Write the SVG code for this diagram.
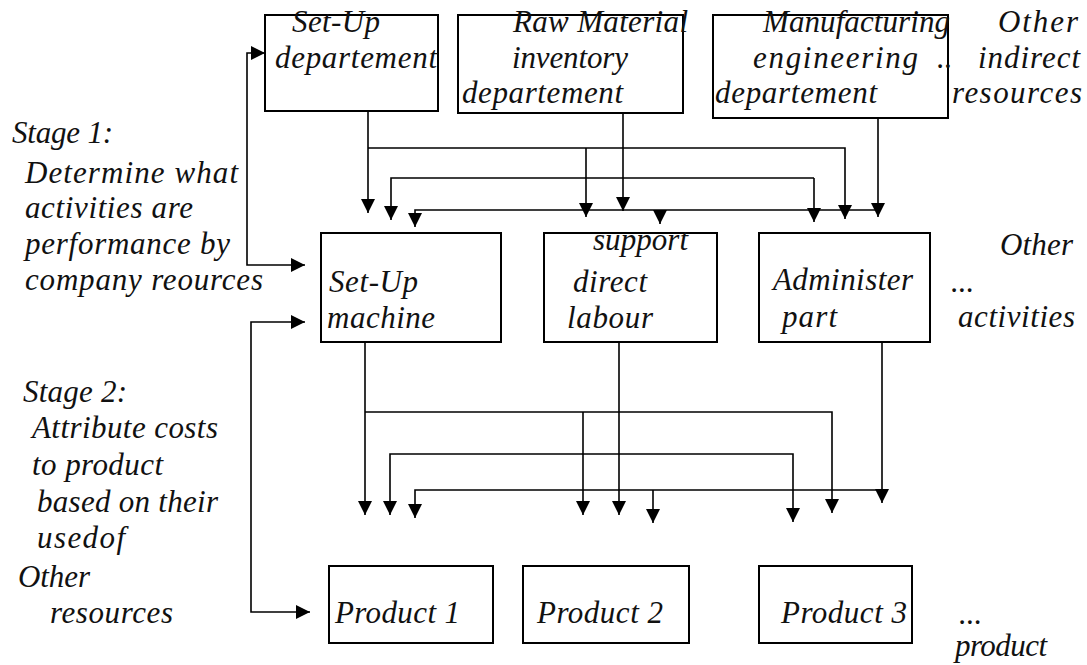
<svg xmlns="http://www.w3.org/2000/svg" width="1087" height="665" viewBox="0 0 1087 665">
<defs>
<marker id="ah" viewBox="0 0 14 14" refX="14" refY="7" markerWidth="14" markerHeight="14" markerUnits="userSpaceOnUse" orient="auto-start-reverse">
<path d="M0,0 L14,7 L0,14 z" fill="#000"/>
</marker>
<style>
text{font-family:"Liberation Serif","Times New Roman",serif;font-style:italic;font-size:31px;fill:#111}
.box{fill:#fff;stroke:#000;stroke-width:2}
.c{fill:none;stroke:#000;stroke-width:1.6}
.a{marker-end:url(#ah)}
.b{marker-start:url(#ah);marker-end:url(#ah)}
</style>
</defs>
<rect width="1087" height="665" fill="#fff"/>

<g id="connectors">
<path class="c a" d="M368,111 V213"/>
<path class="c a" d="M368,148 H845 V219"/>
<path class="c a" d="M586,148 V217"/>
<path class="c a" d="M623,113 V211"/>
<path class="c a" d="M814,178 H391 V220"/>
<path class="c a" d="M814,178 V222"/>
<path class="c a" d="M878,118 V217"/>
<path class="c a" d="M878,210 H415 V227"/>
<path class="c a" d="M660,210 V224"/>
<path class="c a" d="M365,342 V515"/>
<path class="c a" d="M365,412 H832 V513"/>
<path class="c a" d="M583,412 V515"/>
<path class="c a" d="M619,342 V515"/>
<path class="c a" d="M619,454 H390 V515"/>
<path class="c a" d="M619,454 H793 V522"/>
<path class="c a" d="M882,342 V503"/>
<path class="c a" d="M882,490 H415 V518"/>
<path class="c a" d="M653,490 V523"/>
<path class="c b" d="M265,53 H247 V265 H305"/>
<path class="c b" d="M305,322 H251 V612 H310"/>
</g>

<g id="setup-dept">
<rect class="box" x="265" y="15" width="173" height="96"/>
<text x="292" y="32" textLength="88">Set-Up</text>
<text x="275" y="68" textLength="162">departement</text>
</g>
<g id="raw-material">
<rect class="box" x="458" y="15" width="225" height="98"/>
<text x="513" y="32" textLength="175">Raw Material</text>
<text x="512" y="68" textLength="116">inventory</text>
<text x="462" y="103" textLength="161">departement</text>
</g>
<g id="manufacturing">
<rect class="box" x="713" y="15" width="235" height="103"/>
<text x="763" y="32" textLength="187">Manufacturing</text>
<text x="753" y="68" textLength="165">engineering</text>
<text x="715" y="103" textLength="162">departement</text>
</g>
<g id="other-indirect">
<text x="998" y="32" textLength="80">Other</text>
<text x="937" y="68">..</text>
<text x="978" y="68" textLength="102">indirect</text>
<text x="952" y="103" textLength="130">resources</text>
</g>

<g id="stage1">
<text x="12" y="143" textLength="101">Stage 1:</text>
<text x="25" y="183" textLength="213">Determine what</text>
<text x="25" y="218" textLength="168">activities are</text>
<text x="25" y="254" textLength="205">performance by</text>
<text x="25" y="290" textLength="238">company reources</text>
</g>

<g id="setup-machine">
<rect class="box" x="321" y="233" width="180" height="109"/>
<text x="329" y="292" textLength="89">Set-Up</text>
<text x="327" y="328" textLength="108">machine</text>
</g>
<g id="support-labour">
<rect class="box" x="544" y="233" width="173" height="109"/>
<text x="593" y="250" textLength="95">support</text>
<text x="573" y="292" textLength="74">direct</text>
<text x="567" y="328" textLength="86">labour</text>
</g>
<g id="administer">
<rect class="box" x="759" y="233" width="171" height="109"/>
<text x="773" y="290" textLength="140">Administer</text>
<text x="782" y="327" textLength="55">part</text>
</g>
<g id="other-activities">
<text x="1000" y="255" textLength="73">Other</text>
<text x="951" y="292">...</text>
<text x="958" y="327" textLength="117">activities</text>
</g>

<g id="stage2">
<text x="23" y="402" textLength="104">Stage 2:</text>
<text x="32" y="438" textLength="186">Attribute costs</text>
<text x="32" y="475" textLength="131">to product</text>
<text x="37" y="512" textLength="181">based on their</text>
<text x="37" y="548" textLength="88">usedof</text>
<text x="18" y="587" textLength="72">Other</text>
<text x="50" y="623" textLength="123">resources</text>
</g>

<g id="product1">
<rect class="box" x="329" y="566" width="164" height="77"/>
<text x="335" y="623" textLength="125">Product 1</text>
</g>
<g id="product2">
<rect class="box" x="523" y="566" width="166" height="77"/>
<text x="537" y="623" textLength="126">Product 2</text>
</g>
<g id="product3">
<rect class="box" x="759" y="566" width="153" height="77"/>
<text x="781" y="623" textLength="126">Product 3</text>
</g>
<g id="other-product">
<text x="959" y="624">...</text>
<text x="955" y="656" textLength="92">product</text>
</g>
</svg>
